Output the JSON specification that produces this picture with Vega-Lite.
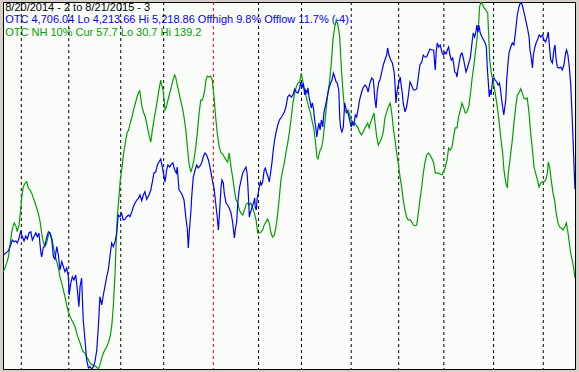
{
  "$schema": "https://vega.github.io/schema/vega-lite/v6.json",
  "autosize": {"type": "none"},
  "width": 572,
  "height": 367,
  "padding": {"left": 3, "top": 2, "right": 4, "bottom": 3},
  "background": "#d4d0c8",
  "config": {"view": {"stroke": "#000000", "strokeWidth": 1, "fill": "#fbfdfb"}},
  "datasets": {
    "otc": [
      {"day":0.0,"close":4525.9},{"day":2.3,"close":4536.9},{"day":3.3,"close":4553.3},{"day":4.0,"close":4567.0},{"day":4.8,"close":4562.4},{"day":5.5,"close":4564.3},{"day":6.2,"close":4558.8},{"day":7.0,"close":4572.5},{"day":7.7,"close":4589.7},{"day":8.5,"close":4576.1},{"day":9.2,"close":4564.3},{"day":10.0,"close":4578.0},{"day":10.7,"close":4569.8},{"day":11.4,"close":4586.2},{"day":12.2,"close":4589.7},{"day":12.9,"close":4567.0},{"day":13.6,"close":4576.1},{"day":14.4,"close":4587.0},{"day":15.1,"close":4576.1},{"day":15.8,"close":4586.2},{"day":16.6,"close":4535.0},{"day":17.0,"close":4520.4},{"day":17.7,"close":4545.1},{"day":18.5,"close":4553.3},{"day":19.2,"close":4572.5},{"day":20.0,"close":4589.7},{"day":20.7,"close":4586.2},{"day":21.5,"close":4567.0},{"day":22.2,"close":4521.3},{"day":22.9,"close":4514.9},{"day":23.7,"close":4548.7},{"day":24.4,"close":4525.9},{"day":25.1,"close":4484.8},{"day":25.9,"close":4507.6},{"day":26.6,"close":4493.9},{"day":27.3,"close":4480.2},{"day":28.1,"close":4490.3},{"day":28.8,"close":4466.5},{"day":29.2,"close":4416.4},{"day":29.9,"close":4449.2},{"day":30.6,"close":4466.5},{"day":31.3,"close":4457.5},{"day":32.1,"close":4471.2},{"day":32.8,"close":4430.1},{"day":33.5,"close":4384.3},{"day":34.0,"close":4439.1},{"day":34.7,"close":4462.9},{"day":35.4,"close":4347.9},{"day":36.2,"close":4293.1},{"day":36.9,"close":4238.3},{"day":37.7,"close":4216.4},{"day":38.4,"close":4220.0},{"day":39.2,"close":4213.66},{"day":39.9,"close":4220.0},{"day":40.6,"close":4233.7},{"day":41.4,"close":4265.7},{"day":42.1,"close":4329.5},{"day":42.8,"close":4411.7},{"day":43.6,"close":4389.0},{"day":44.3,"close":4416.4},{"day":45.0,"close":4439.1},{"day":45.8,"close":4466.5},{"day":46.5,"close":4484.8},{"day":47.3,"close":4525.9},{"day":48.0,"close":4558.8},{"day":48.7,"close":4548.7},{"day":49.5,"close":4562.4},{"day":50.2,"close":4585.3},{"day":50.9,"close":4635.5},{"day":51.7,"close":4630.8},{"day":52.4,"close":4640.1},{"day":53.1,"close":4621.8},{"day":53.9,"close":4623.7},{"day":54.6,"close":4630.8},{"day":55.4,"close":4635.5},{"day":56.1,"close":4630.8},{"day":56.9,"close":4644.5},{"day":57.6,"close":4658.2},{"day":58.3,"close":4667.5},{"day":59.1,"close":4676.6},{"day":59.8,"close":4681.2},{"day":60.5,"close":4690.3},{"day":61.3,"close":4674.7},{"day":62.0,"close":4690.3},{"day":62.7,"close":4699.3},{"day":63.5,"close":4678.5},{"day":64.5,"close":4690.3},{"day":65.3,"close":4703.9},{"day":66.0,"close":4725.9},{"day":66.7,"close":4750.5},{"day":67.5,"close":4753.2},{"day":68.2,"close":4772.4},{"day":68.9,"close":4780.6},{"day":69.7,"close":4788.8},{"day":70.4,"close":4767.0},{"day":71.2,"close":4739.6},{"day":71.6,"close":4725.9},{"day":72.3,"close":4758.7},{"day":72.9,"close":4772.4},{"day":73.7,"close":4767.0},{"day":74.4,"close":4775.2},{"day":75.1,"close":4777.9},{"day":75.9,"close":4758.7},{"day":76.6,"close":4750.5},{"day":77.0,"close":4767.0},{"day":77.8,"close":4703.9},{"day":78.5,"close":4698.5},{"day":79.2,"close":4690.3},{"day":80.0,"close":4676.6},{"day":80.8,"close":4630.0},{"day":81.5,"close":4594.4},{"day":81.9,"close":4545.1},{"day":82.3,"close":4586.2},{"day":83.0,"close":4641.0},{"day":83.4,"close":4684.8},{"day":84.1,"close":4739.6},{"day":84.9,"close":4758.7},{"day":85.6,"close":4772.4},{"day":86.3,"close":4764.2},{"day":87.1,"close":4769.7},{"day":87.8,"close":4777.9},{"day":88.5,"close":4794.3},{"day":89.3,"close":4805.3},{"day":90.0,"close":4799.8},{"day":90.8,"close":4786.1},{"day":91.5,"close":4767.0},{"day":92.5,"close":4731.4},{"day":93.3,"close":4709.4},{"day":94.0,"close":4668.4},{"day":94.7,"close":4630.0},{"day":95.2,"close":4594.4},{"day":95.6,"close":4630.0},{"day":96.4,"close":4712.2},{"day":96.8,"close":4731.4},{"day":97.4,"close":4723.1},{"day":97.8,"close":4695.8},{"day":98.6,"close":4668.4},{"day":99.3,"close":4662.9},{"day":100.0,"close":4654.7},{"day":100.8,"close":4641.0},{"day":101.5,"close":4616.3},{"day":102.3,"close":4572.5},{"day":102.7,"close":4594.4},{"day":103.3,"close":4616.3},{"day":103.8,"close":4668.4},{"day":104.5,"close":4709.4},{"day":105.3,"close":4731.4},{"day":106.0,"close":4750.5},{"day":106.7,"close":4758.7},{"day":107.4,"close":4767.0},{"day":107.9,"close":4750.5},{"day":108.2,"close":4723.1},{"day":108.6,"close":4676.6},{"day":108.9,"close":4630.0},{"day":109.3,"close":4641.0},{"day":109.8,"close":4649.2},{"day":110.4,"close":4662.9},{"day":110.8,"close":4668.4},{"day":111.3,"close":4682.1},{"day":111.5,"close":4657.4},{"day":112.0,"close":4649.2},{"day":112.4,"close":4682.1},{"day":112.9,"close":4695.8},{"day":113.3,"close":4712.2},{"day":113.8,"close":4725.9},{"day":114.2,"close":4717.6},{"day":114.8,"close":4725.9},{"day":115.5,"close":4758.7},{"day":116.0,"close":4764.2},{"day":116.6,"close":4750.5},{"day":117.2,"close":4739.6},{"day":117.7,"close":4725.9},{"day":118.2,"close":4745.0},{"day":118.9,"close":4777.9},{"day":119.5,"close":4813.5},{"day":120.1,"close":4840.9},{"day":120.7,"close":4860.1},{"day":121.5,"close":4882.0},{"day":122.2,"close":4895.7},{"day":122.9,"close":4901.2},{"day":123.7,"close":4909.4},{"day":124.4,"close":4917.6},{"day":125.1,"close":4931.3},{"day":125.9,"close":4958.7},{"day":126.6,"close":4964.2},{"day":127.5,"close":4958.7},{"day":128.2,"close":4964.2},{"day":129.0,"close":4980.6},{"day":129.7,"close":4972.4},{"day":130.4,"close":4969.6},{"day":131.2,"close":4983.3},{"day":131.6,"close":4999.8},{"day":132.2,"close":4983.3},{"day":132.8,"close":4997.0},{"day":133.4,"close":4964.2},{"day":133.8,"close":4977.9},{"day":134.4,"close":4969.6},{"day":134.9,"close":4983.3},{"day":135.3,"close":4958.7},{"day":135.9,"close":4942.3},{"day":136.3,"close":4928.5},{"day":136.8,"close":4942.3},{"day":137.4,"close":4923.1},{"day":137.8,"close":4895.7},{"day":138.3,"close":4876.5},{"day":138.8,"close":4849.1},{"day":139.3,"close":4873.8},{"day":139.7,"close":4887.5},{"day":140.2,"close":4868.3},{"day":140.8,"close":4895.7},{"day":141.4,"close":4876.5},{"day":141.9,"close":4914.8},{"day":142.5,"close":4931.3},{"day":143.1,"close":4950.5},{"day":143.7,"close":4969.6},{"day":144.3,"close":4986.1},{"day":144.9,"close":4997.0},{"day":145.5,"close":5005.2},{"day":146.1,"close":5024.4},{"day":146.7,"close":5013.4},{"day":147.3,"close":4999.8},{"day":147.8,"close":4997.0},{"day":148.5,"close":4977.9},{"day":148.9,"close":4903.9},{"day":149.3,"close":4873.8},{"day":149.9,"close":4862.8},{"day":150.5,"close":4876.5},{"day":151.1,"close":4942.3},{"day":151.8,"close":4923.1},{"day":152.6,"close":4914.8},{"day":153.3,"close":4895.7},{"day":154.0,"close":4876.5},{"day":154.6,"close":4890.2},{"day":155.2,"close":4882.0},{"day":155.8,"close":4909.4},{"day":156.4,"close":4903.9},{"day":157.0,"close":4923.1},{"day":157.7,"close":4950.5},{"day":158.5,"close":4969.6},{"day":159.2,"close":4983.3},{"day":160.1,"close":4991.5},{"day":160.8,"close":4986.1},{"day":161.5,"close":4972.4},{"day":162.3,"close":4997.0},{"day":163.1,"close":5010.7},{"day":163.8,"close":5005.2},{"day":164.5,"close":4950.5},{"day":165.0,"close":4928.5},{"day":165.5,"close":4972.4},{"day":166.2,"close":4999.8},{"day":166.7,"close":5005.2},{"day":167.5,"close":5027.1},{"day":168.2,"close":5046.3},{"day":168.9,"close":5060.0},{"day":169.7,"close":5073.7},{"day":170.1,"close":5092.9},{"day":170.7,"close":5073.7},{"day":171.5,"close":5060.0},{"day":172.2,"close":5051.8},{"day":173.0,"close":5027.1},{"day":173.4,"close":4991.5},{"day":173.8,"close":4942.3},{"day":174.2,"close":4969.6},{"day":174.8,"close":4991.5},{"day":175.3,"close":5005.2},{"day":175.7,"close":5013.4},{"day":176.2,"close":4986.1},{"day":176.6,"close":4969.6},{"day":177.0,"close":4942.3},{"day":177.8,"close":4917.6},{"day":178.5,"close":4931.3},{"day":179.2,"close":4958.7},{"day":180.0,"close":4999.8},{"day":180.7,"close":4991.5},{"day":181.5,"close":4977.9},{"day":182.2,"close":4977.9},{"day":183.0,"close":4980.6},{"day":183.7,"close":5013.4},{"day":184.4,"close":5046.3},{"day":185.2,"close":5054.5},{"day":185.9,"close":5073.7},{"day":186.6,"close":5068.2},{"day":187.4,"close":5068.2},{"day":188.1,"close":5079.2},{"day":188.8,"close":5090.1},{"day":189.6,"close":5087.4},{"day":190.5,"close":5087.4},{"day":190.9,"close":5051.8},{"day":191.2,"close":5032.6},{"day":191.6,"close":5081.9},{"day":192.1,"close":5106.6},{"day":192.7,"close":5095.6},{"day":193.4,"close":5101.1},{"day":194.2,"close":5079.2},{"day":194.9,"close":5073.7},{"day":195.4,"close":5081.9},{"day":196.0,"close":5076.5},{"day":196.5,"close":5087.4},{"day":197.1,"close":5095.6},{"day":197.7,"close":5073.7},{"day":198.3,"close":5060.0},{"day":198.9,"close":5065.5},{"day":199.3,"close":5051.8},{"day":199.8,"close":5027.1},{"day":200.4,"close":5024.4},{"day":200.8,"close":5013.4},{"day":201.2,"close":5032.6},{"day":201.8,"close":5054.5},{"day":202.4,"close":5073.7},{"day":203.0,"close":5079.2},{"day":203.6,"close":5065.5},{"day":204.2,"close":5046.3},{"day":204.8,"close":5027.1},{"day":205.4,"close":5038.1},{"day":206.0,"close":5051.8},{"day":206.7,"close":5065.5},{"day":207.1,"close":5087.4},{"day":207.6,"close":5114.8},{"day":208.0,"close":5134.0},{"day":208.6,"close":5123.0},{"day":209.2,"close":5136.7},{"day":209.6,"close":5155.9},{"day":210.1,"close":5136.7},{"day":210.5,"close":5155.9},{"day":211.1,"close":5134.0},{"day":211.9,"close":5123.0},{"day":212.6,"close":5114.8},{"day":213.3,"close":5106.6},{"day":213.8,"close":5095.6},{"day":214.2,"close":5040.8},{"day":214.6,"close":5005.2},{"day":215.1,"close":4958.7},{"day":215.5,"close":4977.9},{"day":215.9,"close":4964.2},{"day":216.6,"close":5005.2},{"day":217.2,"close":5010.7},{"day":217.7,"close":5005.2},{"day":218.4,"close":4999.8},{"day":219.0,"close":4991.5},{"day":219.6,"close":4997.0},{"day":220.1,"close":4977.9},{"day":220.6,"close":4950.5},{"day":221.0,"close":4931.3},{"day":221.5,"close":4909.4},{"day":222.4,"close":4950.5},{"day":222.8,"close":5005.2},{"day":223.4,"close":5051.8},{"day":223.8,"close":5079.2},{"day":224.6,"close":5095.6},{"day":225.3,"close":5106.6},{"day":226.0,"close":5101.1},{"day":226.8,"close":5142.2},{"day":227.5,"close":5183.3},{"day":228.2,"close":5205.2},{"day":229.0,"close":5218.86},{"day":229.7,"close":5210.6},{"day":230.4,"close":5191.5},{"day":231.2,"close":5169.6},{"day":231.9,"close":5150.4},{"day":232.7,"close":5123.0},{"day":233.1,"close":5087.4},{"day":233.7,"close":5065.5},{"day":234.2,"close":5038.1},{"day":234.6,"close":5073.7},{"day":235.2,"close":5092.9},{"day":235.8,"close":5106.6},{"day":236.4,"close":5114.8},{"day":237.2,"close":5128.5},{"day":237.9,"close":5123.0},{"day":238.6,"close":5128.5},{"day":239.3,"close":5114.8},{"day":240.0,"close":5109.3},{"day":240.7,"close":5123.0},{"day":241.2,"close":5136.7},{"day":241.6,"close":5106.6},{"day":242.3,"close":5060.0},{"day":243.0,"close":5051.8},{"day":243.7,"close":5087.4},{"day":244.2,"close":5101.1},{"day":244.6,"close":5065.5},{"day":245.2,"close":5040.8},{"day":245.9,"close":5038.1},{"day":246.7,"close":5040.8},{"day":247.4,"close":5032.6},{"day":248.1,"close":5046.3},{"day":248.9,"close":5079.2},{"day":249.3,"close":5087.4},{"day":249.9,"close":5073.7},{"day":250.5,"close":5040.8},{"day":251.1,"close":4997.0},{"day":251.8,"close":4901.2},{"day":253.0,"close":4706.04}
    ],
    "nh": [
      {"day":0.0,"pct":59.5},{"day":0.8,"pct":60.6},{"day":1.5,"pct":62.0},{"day":2.3,"pct":63.8},{"day":3.0,"pct":67.4},{"day":3.8,"pct":71.3},{"day":4.5,"pct":73.3},{"day":4.9,"pct":73.9},{"day":5.7,"pct":72.8},{"day":6.2,"pct":71.3},{"day":7.0,"pct":73.3},{"day":7.7,"pct":77.7},{"day":8.2,"pct":81.6},{"day":8.9,"pct":84.6},{"day":9.6,"pct":85.6},{"day":10.4,"pct":86.1},{"day":11.1,"pct":84.2},{"day":11.9,"pct":83.6},{"day":12.6,"pct":82.7},{"day":13.3,"pct":81.3},{"day":14.1,"pct":79.8},{"day":14.8,"pct":78.3},{"day":15.5,"pct":76.8},{"day":16.3,"pct":74.3},{"day":17.0,"pct":70.9},{"day":17.7,"pct":68.3},{"day":18.5,"pct":66.9},{"day":19.2,"pct":68.0},{"day":20.0,"pct":70.3},{"day":20.7,"pct":70.9},{"day":21.5,"pct":69.4},{"day":22.2,"pct":66.9},{"day":22.9,"pct":64.4},{"day":23.7,"pct":62.4},{"day":24.4,"pct":60.6},{"day":25.1,"pct":58.0},{"day":25.9,"pct":56.1},{"day":26.6,"pct":54.1},{"day":27.3,"pct":52.1},{"day":28.1,"pct":49.6},{"day":28.8,"pct":47.6},{"day":29.6,"pct":46.2},{"day":30.3,"pct":45.2},{"day":31.0,"pct":44.3},{"day":31.8,"pct":43.2},{"day":32.5,"pct":41.3},{"day":33.2,"pct":39.9},{"day":34.0,"pct":38.4},{"day":34.7,"pct":36.9},{"day":35.4,"pct":35.8},{"day":36.2,"pct":35.4},{"day":36.9,"pct":34.3},{"day":37.7,"pct":33.4},{"day":38.4,"pct":32.5},{"day":39.2,"pct":31.9},{"day":39.9,"pct":31.9},{"day":40.6,"pct":31.6},{"day":41.4,"pct":31.2},{"day":42.1,"pct":30.7},{"day":42.8,"pct":31.9},{"day":43.6,"pct":34.0},{"day":44.3,"pct":35.4},{"day":45.0,"pct":36.3},{"day":45.8,"pct":37.3},{"day":46.5,"pct":38.4},{"day":47.3,"pct":40.3},{"day":48.0,"pct":43.2},{"day":48.7,"pct":49.1},{"day":49.5,"pct":59.1},{"day":49.9,"pct":66.9},{"day":50.5,"pct":75.7},{"day":51.1,"pct":80.7},{"day":51.8,"pct":86.6},{"day":52.6,"pct":90.4},{"day":53.3,"pct":94.6},{"day":54.0,"pct":97.5},{"day":54.8,"pct":100.5},{"day":55.5,"pct":101.4},{"day":56.2,"pct":103.4},{"day":57.0,"pct":105.2},{"day":57.7,"pct":107.3},{"day":58.5,"pct":109.3},{"day":59.2,"pct":111.1},{"day":60.0,"pct":112.6},{"day":60.4,"pct":112.9},{"day":61.0,"pct":110.2},{"day":61.4,"pct":108.2},{"day":62.2,"pct":106.4},{"day":63.0,"pct":104.9},{"day":63.8,"pct":102.2},{"day":64.5,"pct":99.9},{"day":65.3,"pct":97.8},{"day":66.0,"pct":101.4},{"day":66.7,"pct":104.3},{"day":67.5,"pct":107.3},{"day":68.2,"pct":110.2},{"day":68.9,"pct":113.2},{"day":69.7,"pct":116.1},{"day":70.1,"pct":114.7},{"day":70.7,"pct":113.2},{"day":71.2,"pct":110.2},{"day":71.6,"pct":107.3},{"day":72.2,"pct":108.2},{"day":72.9,"pct":110.2},{"day":73.7,"pct":112.3},{"day":74.4,"pct":114.1},{"day":75.1,"pct":116.1},{"day":75.9,"pct":117.6},{"day":76.3,"pct":117.0},{"day":77.0,"pct":114.7},{"day":77.8,"pct":112.3},{"day":78.5,"pct":110.2},{"day":79.2,"pct":108.2},{"day":80.0,"pct":105.2},{"day":80.8,"pct":101.4},{"day":81.5,"pct":96.3},{"day":82.2,"pct":91.6},{"day":83.0,"pct":88.9},{"day":83.7,"pct":90.4},{"day":84.4,"pct":92.5},{"day":85.2,"pct":96.3},{"day":85.9,"pct":100.5},{"day":86.6,"pct":105.8},{"day":87.4,"pct":110.2},{"day":88.1,"pct":110.2},{"day":88.5,"pct":111.1},{"day":89.2,"pct":113.2},{"day":89.7,"pct":116.1},{"day":90.3,"pct":117.3},{"day":91.1,"pct":117.0},{"day":91.8,"pct":117.3},{"day":92.5,"pct":116.1},{"day":93.3,"pct":111.1},{"day":94.0,"pct":105.2},{"day":94.7,"pct":100.5},{"day":95.6,"pct":96.3},{"day":96.4,"pct":94.6},{"day":97.1,"pct":94.3},{"day":97.8,"pct":93.4},{"day":98.6,"pct":92.5},{"day":99.3,"pct":91.9},{"day":100.0,"pct":94.6},{"day":100.8,"pct":90.4},{"day":101.5,"pct":87.5},{"day":102.3,"pct":83.6},{"day":103.0,"pct":80.7},{"day":103.8,"pct":79.8},{"day":104.5,"pct":77.7},{"day":105.2,"pct":76.8},{"day":106.0,"pct":76.2},{"day":106.7,"pct":77.7},{"day":107.4,"pct":79.2},{"day":108.2,"pct":79.8},{"day":108.9,"pct":79.2},{"day":109.6,"pct":79.8},{"day":110.4,"pct":78.3},{"day":111.1,"pct":76.8},{"day":111.9,"pct":74.8},{"day":112.6,"pct":70.9},{"day":113.3,"pct":70.9},{"day":114.1,"pct":71.2},{"day":114.8,"pct":71.8},{"day":115.5,"pct":73.3},{"day":116.3,"pct":74.2},{"day":117.0,"pct":75.0},{"day":117.7,"pct":73.9},{"day":118.5,"pct":70.9},{"day":119.2,"pct":69.7},{"day":120.0,"pct":70.3},{"day":120.7,"pct":72.7},{"day":121.5,"pct":76.8},{"day":122.2,"pct":81.6},{"day":122.9,"pct":86.6},{"day":123.7,"pct":89.5},{"day":124.4,"pct":91.6},{"day":125.1,"pct":94.6},{"day":125.9,"pct":97.5},{"day":126.6,"pct":100.5},{"day":127.5,"pct":105.2},{"day":128.2,"pct":109.3},{"day":129.0,"pct":112.3},{"day":129.7,"pct":114.1},{"day":130.4,"pct":115.3},{"day":131.2,"pct":115.6},{"day":131.9,"pct":118.2},{"day":132.3,"pct":116.7},{"day":133.0,"pct":114.1},{"day":133.7,"pct":112.3},{"day":134.4,"pct":110.2},{"day":135.2,"pct":108.2},{"day":135.9,"pct":106.4},{"day":136.6,"pct":104.3},{"day":137.4,"pct":102.0},{"day":138.1,"pct":98.4},{"day":138.8,"pct":93.4},{"day":139.3,"pct":92.8},{"day":140.0,"pct":94.9},{"day":140.8,"pct":96.0},{"day":141.5,"pct":98.4},{"day":142.3,"pct":103.4},{"day":143.0,"pct":108.2},{"day":143.7,"pct":112.3},{"day":144.5,"pct":116.1},{"day":145.2,"pct":121.2},{"day":145.9,"pct":128.0},{"day":146.7,"pct":131.8},{"day":147.4,"pct":133.9},{"day":148.1,"pct":132.4},{"day":148.9,"pct":128.9},{"day":149.6,"pct":120.0},{"day":150.4,"pct":112.3},{"day":151.1,"pct":107.3},{"day":151.8,"pct":106.4},{"day":152.6,"pct":107.3},{"day":153.3,"pct":105.8},{"day":154.0,"pct":104.3},{"day":154.8,"pct":102.8},{"day":155.5,"pct":103.4},{"day":156.2,"pct":102.8},{"day":157.0,"pct":102.0},{"day":157.7,"pct":100.8},{"day":158.5,"pct":99.9},{"day":159.3,"pct":100.8},{"day":160.1,"pct":102.0},{"day":160.8,"pct":102.8},{"day":161.3,"pct":103.4},{"day":161.9,"pct":102.0},{"day":162.6,"pct":103.7},{"day":163.3,"pct":104.9},{"day":164.1,"pct":106.4},{"day":164.5,"pct":103.7},{"day":165.3,"pct":99.3},{"day":166.0,"pct":96.9},{"day":166.7,"pct":97.8},{"day":167.5,"pct":99.0},{"day":168.2,"pct":100.8},{"day":168.9,"pct":104.9},{"day":169.7,"pct":106.7},{"day":170.4,"pct":108.2},{"day":171.2,"pct":109.3},{"day":171.6,"pct":107.9},{"day":172.2,"pct":104.9},{"day":172.6,"pct":102.0},{"day":173.4,"pct":98.4},{"day":174.1,"pct":94.6},{"day":174.8,"pct":91.6},{"day":175.6,"pct":87.5},{"day":176.3,"pct":84.5},{"day":177.0,"pct":80.7},{"day":177.8,"pct":77.7},{"day":178.5,"pct":75.6},{"day":179.2,"pct":74.8},{"day":180.0,"pct":74.8},{"day":180.7,"pct":74.2},{"day":181.5,"pct":73.3},{"day":182.2,"pct":73.0},{"day":183.0,"pct":73.3},{"day":183.7,"pct":76.8},{"day":184.4,"pct":80.7},{"day":185.2,"pct":84.5},{"day":185.9,"pct":88.6},{"day":186.6,"pct":91.6},{"day":187.4,"pct":94.0},{"day":188.1,"pct":94.6},{"day":188.8,"pct":94.0},{"day":189.6,"pct":93.1},{"day":190.5,"pct":91.6},{"day":191.2,"pct":88.6},{"day":191.9,"pct":88.6},{"day":192.7,"pct":88.6},{"day":193.4,"pct":88.3},{"day":194.2,"pct":88.1},{"day":194.9,"pct":89.2},{"day":195.6,"pct":90.1},{"day":196.4,"pct":92.5},{"day":197.1,"pct":96.0},{"day":197.8,"pct":95.4},{"day":198.6,"pct":96.3},{"day":199.3,"pct":99.3},{"day":200.0,"pct":102.0},{"day":200.8,"pct":102.0},{"day":201.5,"pct":105.2},{"day":202.3,"pct":107.3},{"day":203.0,"pct":109.3},{"day":203.8,"pct":107.9},{"day":204.5,"pct":106.4},{"day":205.2,"pct":106.7},{"day":206.0,"pct":108.2},{"day":206.7,"pct":111.7},{"day":207.4,"pct":116.1},{"day":208.2,"pct":120.0},{"day":208.9,"pct":124.1},{"day":209.6,"pct":128.0},{"day":210.4,"pct":133.0},{"day":210.8,"pct":137.7},{"day":211.4,"pct":139.2},{"day":212.2,"pct":138.3},{"day":212.9,"pct":137.4},{"day":213.6,"pct":136.8},{"day":214.4,"pct":136.0},{"day":214.8,"pct":130.0},{"day":215.3,"pct":122.1},{"day":216.0,"pct":118.2},{"day":216.7,"pct":116.1},{"day":217.5,"pct":113.2},{"day":218.2,"pct":110.2},{"day":219.0,"pct":106.4},{"day":219.7,"pct":102.2},{"day":220.3,"pct":98.4},{"day":221.0,"pct":94.6},{"day":221.6,"pct":89.5},{"day":222.4,"pct":85.7},{"day":223.1,"pct":84.2},{"day":223.5,"pct":88.6},{"day":224.1,"pct":91.6},{"day":224.6,"pct":94.6},{"day":225.3,"pct":98.4},{"day":226.0,"pct":103.4},{"day":226.8,"pct":108.2},{"day":227.5,"pct":111.7},{"day":228.2,"pct":112.3},{"day":229.0,"pct":113.5},{"day":229.7,"pct":112.3},{"day":230.4,"pct":110.8},{"day":231.2,"pct":110.5},{"day":231.9,"pct":110.8},{"day":232.7,"pct":106.4},{"day":233.4,"pct":100.5},{"day":234.2,"pct":95.4},{"day":234.9,"pct":90.4},{"day":235.6,"pct":88.6},{"day":236.4,"pct":86.6},{"day":237.1,"pct":84.5},{"day":237.9,"pct":85.7},{"day":238.6,"pct":86.0},{"day":239.3,"pct":86.0},{"day":240.1,"pct":86.6},{"day":240.8,"pct":88.6},{"day":241.2,"pct":91.9},{"day":241.8,"pct":90.4},{"day":242.5,"pct":86.6},{"day":243.3,"pct":82.7},{"day":244.0,"pct":80.7},{"day":244.7,"pct":76.8},{"day":245.5,"pct":73.9},{"day":246.2,"pct":72.7},{"day":246.9,"pct":72.4},{"day":247.7,"pct":71.8},{"day":248.5,"pct":72.7},{"day":249.2,"pct":73.9},{"day":249.9,"pct":71.2},{"day":250.5,"pct":68.0},{"day":251.1,"pct":65.0},{"day":251.8,"pct":62.9},{"day":252.4,"pct":60.9},{"day":253.0,"pct":57.7}
    ],
    "months": [
      {"day":8,"kind":"month"},{"day":29,"kind":"month"},{"day":52,"kind":"month"},{"day":71,"kind":"month"},{"day":93,"kind":"year"},{"day":113,"kind":"month"},{"day":132,"kind":"month"},{"day":154,"kind":"month"},{"day":175,"kind":"month"},{"day":195,"kind":"month"},{"day":217,"kind":"month"},{"day":239,"kind":"month"}
    ],
    "labels": [
      {"line":1,"label":"8/20/2014 - 2 to 8/21/2015 - 3","series":"range"},
      {"line":2,"label":"OTC 4,706.04 Lo 4,213.66 Hi 5,218.86 Offhigh 9.8% Offlow 11.7% (-4)","series":"OTC"},
      {"line":3,"label":"OTC NH 10% Cur 57.7 Lo 30.7 Hi 139.2","series":"NH"}
    ]
  },
  "resolve": {"scale": {"y": "independent", "color": "independent"}},
  "layer": [
    {
      "data": {"name": "labels"},
      "mark": {"type": "text", "font": "Liberation Sans", "fontSize": 11, "align": "left", "baseline": "alphabetic", "dx": 2},
      "encoding": {
        "x": {"datum": 0, "type": "quantitative", "scale": {"domain": [-0.1, 253.03], "nice": false, "zero": false}, "axis": null},
        "y": {"field": "line", "type": "quantitative", "scale": {"domain": [0.333, 29.12], "reverse": true, "nice": false, "zero": false}, "axis": null},
        "text": {"field": "label"},
        "color": {"field": "series", "type": "nominal", "scale": {"domain": ["range", "OTC", "NH"], "range": ["#000000", "#0000ff", "#00a000"]}, "legend": null}
      }
    },
    {
      "data": {"name": "months"},
      "mark": {"type": "rule", "strokeDash": [3, 3], "strokeWidth": 1},
      "encoding": {
        "x": {"field": "day", "type": "quantitative", "scale": {"domain": [-0.1, 253.03], "nice": false, "zero": false}, "axis": null},
        "color": {"field": "kind", "type": "nominal", "scale": {"domain": ["month", "year"], "range": ["#000000", "#ff0000"]}, "legend": null}
      }
    },
    {
      "data": {"name": "nh"},
      "mark": {"type": "line", "color": "#00a000", "strokeWidth": 1.2, "clip": true},
      "encoding": {
        "x": {"field": "day", "type": "quantitative", "scale": {"domain": [-0.1, 253.03], "nice": false, "zero": false}, "axis": null},
        "y": {"field": "pct", "type": "quantitative", "scale": {"domain": [30.7, 139.2], "nice": false, "zero": false}, "axis": null}
      }
    },
    {
      "data": {"name": "otc"},
      "mark": {"type": "line", "color": "#0000ff", "strokeWidth": 1.2, "clip": true},
      "encoding": {
        "x": {"field": "day", "type": "quantitative", "scale": {"domain": [-0.1, 253.03], "nice": false, "zero": false}, "axis": null},
        "y": {"field": "close", "type": "quantitative", "scale": {"domain": [4213.66, 5218.86], "nice": false, "zero": false}, "axis": null}
      }
    }
  ]
}
